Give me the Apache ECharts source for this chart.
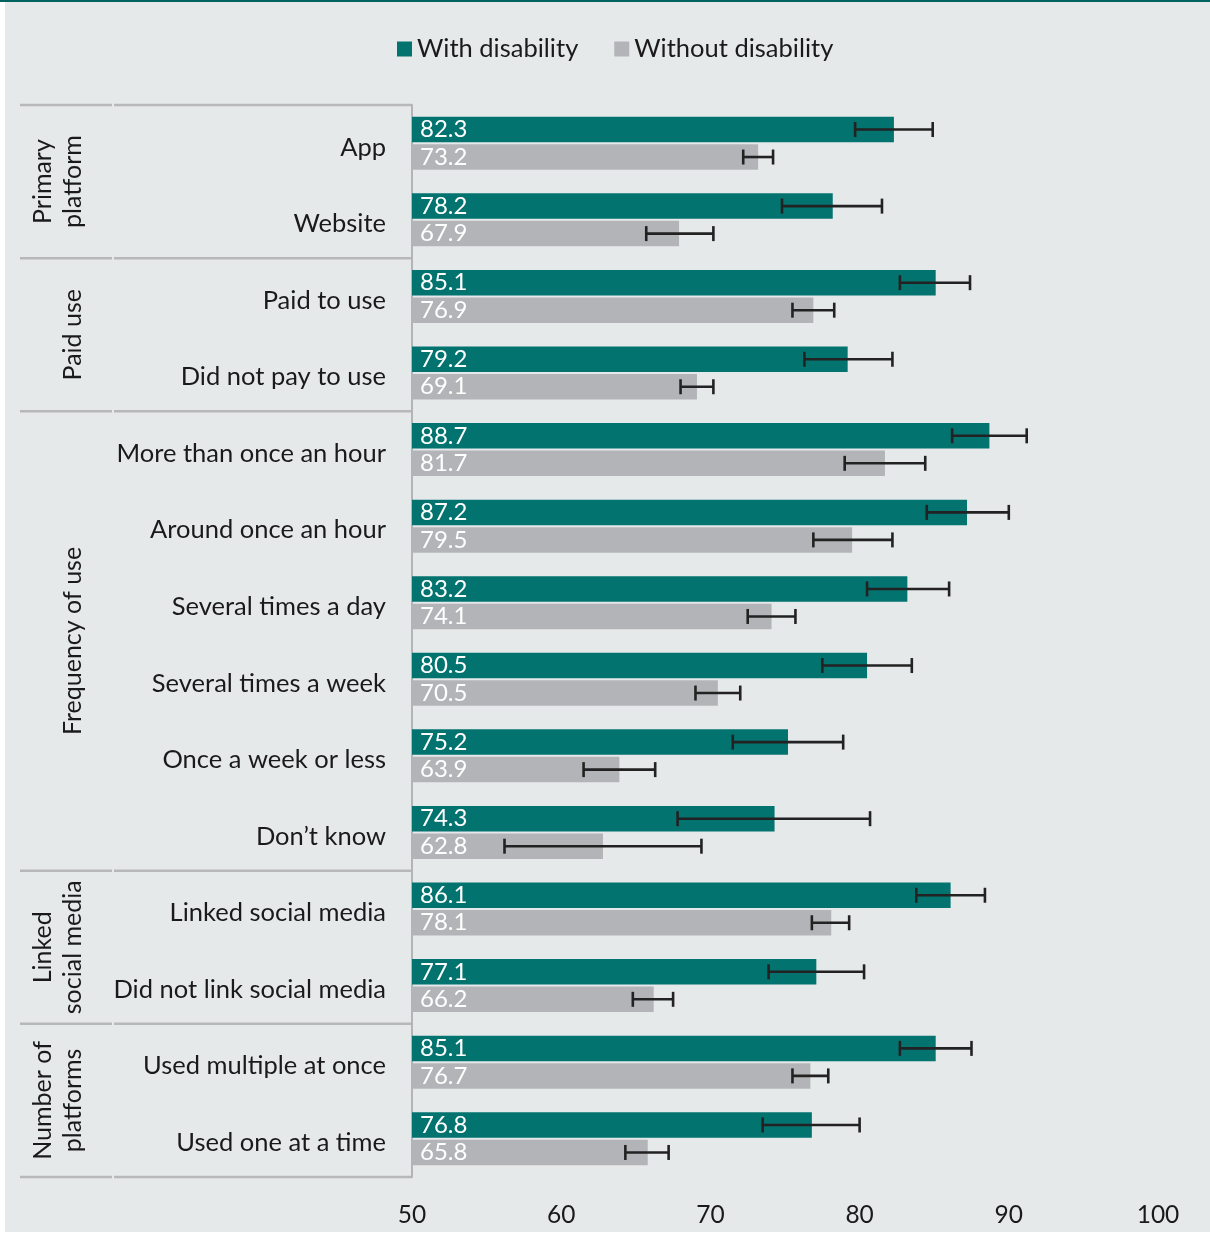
<!DOCTYPE html>
<html>
<head>
<meta charset="utf-8">
<script src="https://cdn.jsdelivr.net/npm/echarts@6/dist/echarts.min.js"></script>
<style>
  html, body { margin: 0; padding: 0; background: #ffffff; }
  #topline { position: absolute; left: 0; top: 0; width: 1210px; height: 2px; background: #02625f; z-index: 2; }
  #chart { position: absolute; left: 5px; top: 0; width: 1205px; height: 1232px; }
</style>
</head>
<body>
<div id="topline"></div>
<div id="chart"></div>
<script>
const categories = ['App', 'Website', 'Paid to use', 'Did not pay to use', 'More than once an hour',
  'Around once an hour', 'Several times a day', 'Several times a week', 'Once a week or less',
  'Don\u2019t know', 'Linked social media', 'Did not link social media', 'Used multiple at once',
  'Used one at a time'];
const groupNames = ['Primary\nplatform', 'Paid use', 'Frequency of use', 'Linked\nsocial media', 'Number of\nplatforms'];
const groupSizes = [2, 2, 6, 2, 2];
const seriesNames = ['With disability', 'Without disability'];
const withDisability = [82.3, 78.2, 85.1, 79.2, 88.7, 87.2, 83.2, 80.5, 75.2, 74.3, 86.1, 77.1, 85.1, 76.8];
const withoutDisability = [73.2, 67.9, 76.9, 69.1, 81.7, 79.5, 74.1, 70.5, 63.9, 62.8, 78.1, 66.2, 76.7, 65.8];
const withLow = [79.7, 74.8, 82.7, 76.3, 86.2, 84.5, 80.5, 77.5, 71.5, 67.8, 83.8, 73.9, 82.7, 73.5];
const withHigh = [84.9, 81.5, 87.4, 82.2, 91.2, 90.0, 86.0, 83.5, 78.9, 80.7, 88.4, 80.3, 87.5, 80.0];
const withoutLow = [72.2, 65.7, 75.5, 68.0, 79.0, 76.9, 72.5, 69.0, 61.5, 56.2, 76.8, 64.8, 75.5, 64.3];
const withoutHigh = [74.2, 70.2, 78.3, 70.2, 84.4, 82.2, 75.7, 72.0, 66.3, 69.4, 79.3, 67.5, 77.9, 67.2];
const xMin = 50, xMax = 100, xStep = 10;

const FONT = 'Lato';
const TEAL = '#037370';
const GREY = '#b3b4b7';
const BAR_W = 25.5;
const BAR_GAP_PX = 2;

const chart = echarts.init(document.getElementById('chart'), null, { renderer: 'canvas' });

function errorSeries(lows, highs, sign) {
  return {
    type: 'custom',
    silent: true,
    z: 5,
    data: categories.map((c, i) => [lows[i], highs[i], i]),
    encode: { x: [0, 1], y: 2 },
    renderItem: function (params, api) {
      const lo = api.coord([api.value(0), api.value(2)]);
      const hi = api.coord([api.value(1), api.value(2)]);
      const off = sign * (BAR_W + BAR_GAP_PX) / 2;
      const y = lo[1] + off;
      const cap = 7.5;
      const style = { stroke: '#222222', lineWidth: 2.6 };
      return {
        type: 'group',
        children: [
          { type: 'line', shape: { x1: lo[0], y1: y, x2: hi[0], y2: y }, style: style },
          { type: 'line', shape: { x1: lo[0], y1: y - cap, x2: lo[0], y2: y + cap }, style: style },
          { type: 'line', shape: { x1: hi[0], y1: y - cap, x2: hi[0], y2: y + cap }, style: style }
        ]
      };
    }
  };
}

const valueLabel = {
  show: true,
  position: 'insideLeft',
  distance: 8,
  color: '#ffffff',
  fontFamily: FONT,
  fontSize: 24,
  formatter: p => p.value.toFixed(1)
};

chart.setOption({
  animation: false,
  backgroundColor: '#e6e9ea',
  textStyle: { fontFamily: FONT },
  legend: {
    top: 36,
    left: 392,
    padding: 0,
    itemWidth: 15,
    itemHeight: 15,
    itemGap: 36,
    icon: 'rect',
    textStyle: { fontFamily: FONT, fontSize: 25.5, color: '#1a1a1a' },
    data: seriesNames
  },
  grid: { left: 407, right: 52, top: 105, bottom: 55, containLabel: false },
  xAxis: {
    type: 'value',
    min: xMin, max: xMax, interval: xStep,
    axisLine: { show: false },
    axisTick: { show: false },
    splitLine: { show: false },
    axisLabel: { fontFamily: FONT, fontSize: 24.5, color: '#1a1a1a', margin: 26 }
  },
  yAxis: {
    type: 'category',
    inverse: true,
    data: categories,
    axisLine: { show: true, lineStyle: { color: '#b3b4b6', width: 2 } },
    axisTick: { show: false },
    splitLine: { show: false },
    axisLabel: {
      margin: 26,
      formatter: v => '{c|' + v + '}',
      rich: { c: { fontFamily: FONT, fontSize: 25.5, color: '#1a1a1a', padding: [8, 0, 0, 0] } }
    }
  },
  series: [
    {
      name: seriesNames[0], type: 'bar', data: withDisability,
      barWidth: BAR_W, barGap: (BAR_GAP_PX / BAR_W * 100) + '%',
      itemStyle: { color: TEAL }, label: valueLabel
    },
    {
      name: seriesNames[1], type: 'bar', data: withoutDisability,
      barWidth: BAR_W,
      itemStyle: { color: GREY }, label: valueLabel
    },
    errorSeries(withLow, withHigh, -1),
    errorSeries(withoutLow, withoutHigh, 1)
  ]
});

// group separators and group labels, positioned via the category scale
const graphics = [];
const yOf = i => chart.convertToPixel({ yAxisIndex: 0 }, i);
const step = yOf(1) - yOf(0);
const axisX = chart.convertToPixel({ xAxisIndex: 0 }, xMin);
const lineStyle = { stroke: '#b7b8ba', lineWidth: 2.5 };
let start = 0;
const boundaries = [yOf(0) - step / 2];
groupSizes.forEach((n, g) => {
  const top = yOf(start) - step / 2;
  const bottom = yOf(start + n - 1) + step / 2;
  boundaries.push(bottom);
  graphics.push({
    type: 'text',
    x: 83, y: (top + bottom) / 2,
    rotation: Math.PI / 2,
    style: {
      text: groupNames[g], fontFamily: FONT, fontSize: 25, fill: '#1a1a1a',
      align: 'center', verticalAlign: 'bottom', lineHeight: 30
    }
  });
  start += n;
});
boundaries.forEach(b => {
  graphics.push({ type: 'line', shape: { x1: 15, y1: b, x2: 107, y2: b }, style: lineStyle });
  graphics.push({ type: 'line', shape: { x1: 109, y1: b, x2: axisX, y2: b }, style: lineStyle });
});
chart.setOption({ graphic: graphics });
</script>
</body>
</html>
